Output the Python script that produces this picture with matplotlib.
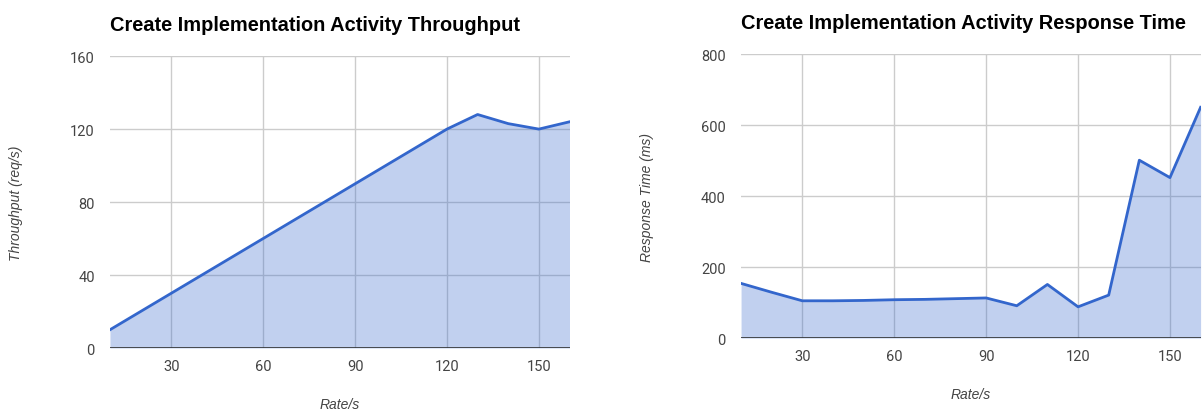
import matplotlib
matplotlib.use("Agg")
import matplotlib.pyplot as plt

# Rates (req/s offered) and measured results
rate = [10, 20, 30, 40, 50, 60, 70, 80, 90, 100, 110, 120, 130, 140, 150, 160]
throughput = [10, 20, 30, 40, 50, 60, 70, 80, 90, 100, 110, 120, 128, 123, 120, 124]
response_ms = [154, 129, 105, 105, 106, 108, 109, 111, 113, 91, 151, 88, 121, 501, 452, 650]

x_ticks = [30, 60, 90, 120, 150]
tp_ticks = [0, 40, 80, 120, 160]
rt_ticks = [0, 200, 400, 600, 800]

LINE = "#3366cc"
GRID = "#cccccc"
TICK = "#444444"

plt.rcParams["font.family"] = ["Liberation Sans", "DejaVu Sans"]

fig = plt.figure(figsize=(12.03, 4.14), dpi=100)
ax1 = fig.add_axes([0.0914, 0.157, 0.382, 0.705])
ax2 = fig.add_axes([0.616, 0.181, 0.382, 0.686])


def area_chart(ax, y, yticks, title, ylabel, xlab_y):
    ax.fill_between(rate, y, 0, color=LINE, alpha=0.3, lw=0, zorder=2)
    ax.plot(rate, y, color=LINE, lw=2, zorder=3)
    ax.axhline(0, color="#333333", lw=1.2, zorder=4)
    ax.set_xlim(10, 160)
    ax.set_ylim(yticks[0], yticks[-1])
    ax.set_xticks(x_ticks)
    ax.set_yticks(yticks)
    ax.grid(True, color=GRID, lw=1, zorder=1)
    ax.set_axisbelow(True)
    for s in ax.spines.values():
        s.set_visible(False)
    ax.tick_params(length=0, labelsize=10.5, colors=TICK)
    ax.tick_params(axis="y", pad=11)
    ax.tick_params(axis="x", pad=8)
    for lab in ax.get_xticklabels() + ax.get_yticklabels():
        lab.set_fontfamily("Roboto")
    ax.set_title(title, loc="left", fontsize=14.4, fontweight="bold", pad=19, color="#000000")
    ax.set_xlabel("Rate/s", fontstyle="italic", fontsize=10, color=TICK)
    ax.set_ylabel(ylabel, fontstyle="italic", fontsize=10, color=TICK)
    ax.xaxis.set_label_coords(0.5, xlab_y)
    ax.yaxis.set_label_coords(-0.19, 0.5)


area_chart(ax1, throughput, tp_ticks, "Create Implementation Activity Throughput",
           "Throughput (req/s)", -0.168)
area_chart(ax2, response_ms, rt_ticks, "Create Implementation Activity Response Time",
           "Response Time (ms)", -0.173)

fig.savefig("out.png", dpi=100)
